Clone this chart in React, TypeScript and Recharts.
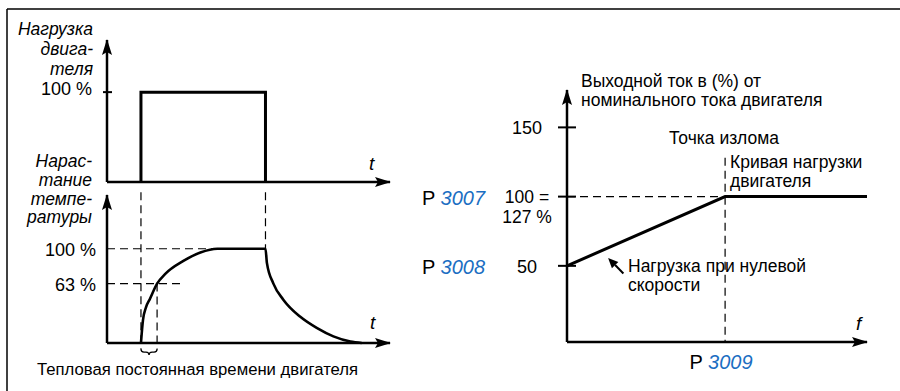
import React from 'react';
import { LineChart, Line, XAxis, YAxis, ReferenceLine } from 'recharts';

// motor load pulse (time in % of axis length, load in %)
const loadTime = [12, 12, 56, 56];
const loadValue = [0, 100, 100, 0];
const loadTicks = [100];
const loadTickLabels = ['100 %'];

// temperature rise of the motor
const tempTime = [12, 12.7, 13.8, 15.2, 17.7, 20.5, 27, 33, 39, 56, 56.5, 58.8, 62.3, 68.2, 74.1, 80, 86, 90];
const tempValue = [0, 24, 38, 47, 63, 73, 87, 96, 100, 100, 85, 63, 46, 28, 16, 7, 1.5, 0];
const tempTicks = [100, 63];
const tempTickLabels = ['100 %', '63 %'];
const pulseOn = 12;
const pulseOff = 56;
const timeConstantEnd = 17.7;

// output current limit vs. frequency
const freq = [0, 52.7, 100];
const current = [50, 100, 100];
const currentTicks = [150, 100, 50];
const currentTickLabels = ['150', '100 =', '50'];
const currentTickNotes = ['', '127 %', ''];
const currentParams = ['', '3007', '3008'];
const freqTicks = [52.7];
const freqParams = ['3009'];

const FONT = '"Liberation Sans", Arial, sans-serif';
const BLUE = '#1b6ec2';
const DASH = '8 5';

const leftTick = (labels: string[], dx: number, dy: number, mark: boolean) => (props: any) => {
  const { x, y, index } = props;
  return (
    <g>
      {mark && <line x1={x - 4} x2={x + 5} y1={y} y2={y} stroke="#000" strokeWidth={2} />}
      <text x={x - dx} y={y + dy} textAnchor="end" fontSize={18} fill="#000">{labels[index]}</text>
    </g>
  );
};

const currentTick = (props: any) => {
  const { x, y, index } = props;
  const note = currentTickNotes[index];
  return (
    <g>
      <line x1={x - 9} x2={x + 9} y1={y} y2={y} stroke="#000" strokeWidth={2} />
      <text x={x - 40} y={y + (note ? 6 : 7)} textAnchor="middle" fontSize={note ? 17.5 : 18} fill="#000">{currentTickLabels[index]}</text>
      {note && (
        <text x={x - 40} y={y + 26} textAnchor="middle" fontSize={17.5} fill="#000">{note}</text>
      )}
      {currentParams[index] && (
        <text x={x - 145} y={y + 8} fontSize={20} fill="#000">
          P <tspan fill={BLUE} fontStyle="italic">{currentParams[index]}</tspan>
        </text>
      )}
    </g>
  );
};

const freqTick = (props: any) => {
  const { x, y, index } = props;
  return (
    <text x={x - 4} y={y + 27} textAnchor="middle" fontSize={20} fill="#000">
      P <tspan fill={BLUE} fontStyle="italic">{freqParams[index]}</tspan>
    </text>
  );
};

const braceShape = (p: any) => {
  const { x1, x2, y1 } = p;
  const m = (x1 + x2) / 2;
  const d = `M${x1},${y1} Q${x1},${y1 + 3} ${x1 + 3},${y1 + 3} L${m - 3},${y1 + 3} Q${m},${y1 + 3} ${m},${y1 + 6} Q${m},${y1 + 3} ${m + 3},${y1 + 3} L${x2 - 3},${y1 + 3} Q${x2},${y1 + 3} ${x2},${y1}`;
  return <path d={d} fill="none" stroke="#000" strokeWidth={1.3} />;
};

const pointerShape = (p: any) => {
  const { x1, y1, x2, y2 } = p;
  const a = Math.atan2(y2 - y1, x2 - x1);
  const L = 10, W = 4.5;
  const bx = x2 - L * Math.cos(a), by = y2 - L * Math.sin(a);
  const pts = `${x2},${y2} ${bx + W * Math.sin(a)},${by - W * Math.cos(a)} ${bx - W * Math.sin(a)},${by + W * Math.cos(a)}`;
  return (
    <g>
      <line x1={x1} y1={y1} x2={bx} y2={by} stroke="#000" strokeWidth={2} />
      <polygon points={pts} fill="#000" />
    </g>
  );
};

const axisLine = { stroke: '#000', strokeWidth: 2.5, markerEnd: 'url(#axisArrow)' };
const yAxisLine = { stroke: '#000', strokeWidth: 2.5, markerStart: 'url(#axisArrow)' };

export default function App() {
  const loadData = loadTime.map((t, i) => ({ t, v: loadValue[i] }));
  const tempData = tempTime.map((t, i) => ({ t, v: tempValue[i] }));
  const currentData = freq.map((f, i) => ({ f, v: current[i] }));

  const text = (x: number, y: number, s: string, extra: any = {}) => (
    <text x={x} y={y} fontSize={17} fill="#000" {...extra}>{s}</text>
  );
  const it = { fontStyle: 'italic', textAnchor: 'end', fontSize: 17.5 };
  const rt = { fontSize: 17.5 };

  return (
    <div style={{ position: 'absolute', left: 0, top: 0, width: 900, height: 391, background: '#fff', fontFamily: FONT }}>
      <svg width={900} height={391} style={{ position: 'absolute', left: 0, top: 0 }}>
        <defs>
          <marker id="axisArrow" viewBox="0 0 16 10" markerWidth={16} markerHeight={10} refX={15} refY={5}
            orient="auto-start-reverse" markerUnits="userSpaceOnUse">
            <path d="M0,0 L16,5 L0,10 L3,5 z" fill="#000" />
          </marker>
        </defs>
        <line x1={7} y1={9} x2={900} y2={9} stroke="#000" strokeWidth={1.5} />
        <line x1={7} y1={9} x2={7} y2={391} stroke="#000" strokeWidth={1.5} />

        {text(93, 35, 'Нагрузка', it)}
        {text(93, 55, 'двига-', it)}
        {text(93, 75, 'теля', it)}
        {text(92, 167, 'Нарас-', it)}
        {text(92, 186, 'тание', it)}
        {text(92, 205, 'темпе-', it)}
        {text(92, 223, 'ратуры', it)}
        {text(369, 170, 't', { fontStyle: 'italic', fontSize: 19 })}
        {text(370, 329, 't', { fontStyle: 'italic', fontSize: 19 })}
        {text(37, 375, 'Тепловая постоянная времени двигателя', { fontSize: 16.7 })}

        {text(581, 87, 'Выходной ток в (%) от', rt)}
        {text(581, 106, 'номинального тока двигателя', rt)}
        {text(669, 144, 'Точка излома', rt)}
        {text(730, 168, 'Кривая нагрузки', rt)}
        {text(730, 187, 'двигателя', rt)}
        {text(628, 272, 'Нагрузка при нулевой', rt)}
        {text(628, 291, 'скорости', rt)}
        {text(856, 330, 'f', { fontStyle: 'italic', fontSize: 19 })}
      </svg>

      {/* motor load */}
      <div style={{ position: 'absolute', left: 0, top: 0 }}>
        <LineChart width={900} height={391} margin={{ top: 40, right: 510, bottom: 208, left: 106 }}>
          <XAxis dataKey="t" type="number" domain={[0, 100]} height={1} tick={false} tickLine={false} axisLine={axisLine} />
          <YAxis type="number" domain={[0, 158]} width={1} ticks={loadTicks} interval={0} tickLine={false}
            tickSize={0} tickMargin={0} axisLine={yAxisLine} tick={leftTick(loadTickLabels, 15, 3, true)} />
          <Line data={loadData} dataKey="v" type="linear" stroke="#000" strokeWidth={3} dot={false}
            activeDot={false} isAnimationActive={false} />
        </LineChart>
      </div>

      {/* temperature rise */}
      <div style={{ position: 'absolute', left: 0, top: 0 }}>
        <LineChart width={900} height={391} margin={{ top: 195, right: 510, bottom: 47, left: 106 }}>
          <XAxis dataKey="t" type="number" domain={[0, 100]} height={1} tick={false} tickLine={false} axisLine={axisLine} />
          <YAxis type="number" domain={[0, 157]} width={1} ticks={tempTicks} interval={0} tickLine={false}
            tickSize={0} tickMargin={0} axisLine={yAxisLine} tick={leftTick(tempTickLabels, 11, 7, false)} />
          <ReferenceLine segment={[{ x: pulseOn, y: 160 }, { x: pulseOn, y: -6.4 }]} ifOverflow="visible" stroke="#000" strokeWidth={1.2} strokeDasharray={DASH} />
          <ReferenceLine segment={[{ x: pulseOff, y: 160 }, { x: pulseOff, y: 100 }]} ifOverflow="visible" stroke="#000" strokeWidth={1.2} strokeDasharray={DASH} />
          <ReferenceLine segment={[{ x: timeConstantEnd, y: 63 }, { x: timeConstantEnd, y: -6.4 }]} ifOverflow="visible" stroke="#000" strokeWidth={1.2} strokeDasharray={DASH} />
          <ReferenceLine segment={[{ x: 0, y: 100 }, { x: 39, y: 100 }]} ifOverflow="visible" stroke="#000" strokeWidth={1.2} strokeDasharray={DASH} />
          <ReferenceLine segment={[{ x: 0, y: 63 }, { x: 27, y: 63 }]} ifOverflow="visible" stroke="#000" strokeWidth={1.2} strokeDasharray={DASH} />
          <ReferenceLine segment={[{ x: pulseOn, y: -6.4 }, { x: timeConstantEnd, y: -6.4 }]} ifOverflow="visible" shape={braceShape} />
          <Line data={tempData} dataKey="v" type="monotone" stroke="#000" strokeWidth={2.6} dot={false}
            activeDot={false} isAnimationActive={false} />
        </LineChart>
      </div>

      {/* output current */}
      <div style={{ position: 'absolute', left: 0, top: 0 }}>
        <LineChart width={900} height={391} margin={{ top: 90, right: 33, bottom: 48, left: 566 }}>
          <XAxis dataKey="f" type="number" domain={[0, 100]} height={1} ticks={freqTicks} interval={0} tickLine={false}
            tickSize={0} tickMargin={0} axisLine={axisLine} tick={freqTick} />
          <YAxis type="number" domain={[-5, 177]} width={1} ticks={currentTicks} interval={0} tickLine={false}
            tickSize={0} tickMargin={0} axisLine={yAxisLine} tick={currentTick} />
          <ReferenceLine segment={[{ x: 0, y: 100 }, { x: 52.7, y: 100 }]} ifOverflow="visible" stroke="#000" strokeWidth={1.2} strokeDasharray={DASH} />
          <ReferenceLine segment={[{ x: 52.7, y: 128 }, { x: 52.7, y: -5 }]} ifOverflow="visible" stroke="#000" strokeWidth={1.2} strokeDasharray={DASH} />
          <ReferenceLine segment={[{ x: 18.8, y: 44.5 }, { x: 13.7, y: 55.7 }]} ifOverflow="visible" shape={pointerShape} />
          <Line data={currentData} dataKey="v" type="linear" stroke="#000" strokeWidth={3} dot={false}
            activeDot={false} isAnimationActive={false} />
        </LineChart>
      </div>
    </div>
  );
}
